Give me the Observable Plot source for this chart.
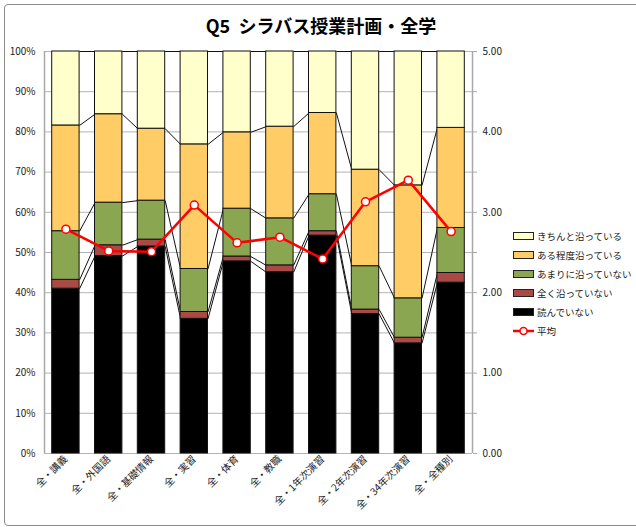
<!DOCTYPE html>
<html>
<head>
<meta charset="utf-8">
<script src="https://cdn.jsdelivr.net/npm/d3@7"></script>
<script src="https://cdn.jsdelivr.net/npm/@observablehq/plot@0.6"></script>
<style>
  html, body { margin: 0; padding: 0; background: #fff; }
  #wrap { position: relative; width: 636px; height: 527px; overflow: hidden; font-family: "Noto Sans CJK JP", "Noto Sans", sans-serif; }
  #frame { position: absolute; left: 4px; top: 4px; width: 680px; height: 522px; box-sizing: border-box; border: 1px solid #8c8c8c; border-radius: 4px; }
  #title { position: absolute; left: 0; width: 642px; top: 14px; text-align: center; font-weight: bold; font-size: 18px; line-height: 22px; white-space: pre; color: #000; }
  #chart { position: absolute; left: 0; top: 0; }
  #legend { position: absolute; left: 513px; top: 226px; width: 130px; font-size: 9.5px; color: #222; white-space: nowrap; }
  .item { display: flex; align-items: center; height: 19.1px; white-space: nowrap; }
  .sw { flex: none; width: 21px; height: 8px; box-sizing: border-box; border: 1px solid #222; margin-right: 3px; }
</style>
</head>
<body>
<div id="wrap">
  <div id="frame"></div>
  <div id="chart"></div>
  <div id="title">Q5  シラバス授業計画・全学</div>
  <div id="legend"></div>
</div>
<script>
// ---- data ----
const categories = ["全・講義","全・外国語","全・基礎情報","全・実習","全・体育","全・教職","全・1年次演習","全・2年次演習","全・34年次演習","全・全種別"];
const seriesNames = ["読んでいない","全く沿っていない","あまりに沿っていない","ある程度沿っている","きちんと沿っている"];
const seriesColors = ["#000000","#a94a47","#8ba650","#ffcc66","#ffffcc"];
const notRead      = [41.0,49.1,51.5,33.5,47.8,45.1,54.2,34.7,27.4,42.5];
const notAtAll     = [2.2,2.7,1.7,1.7,1.2,1.7,1.1,1.1,1.4,2.4];
const notMuch      = [12.1,10.6,9.7,10.7,11.9,11.7,9.2,10.8,9.8,11.2];
const somewhat     = [26.3,22.0,17.9,31.0,19.0,22.8,20.2,24.0,28.1,24.9];
const fully        = [18.4,15.6,19.2,23.1,20.1,18.7,15.3,29.4,33.3,19.0];
const average      = [2.79,2.52,2.51,3.09,2.62,2.69,2.42,3.13,3.40,2.76];
const leftTicks  = [0,10,20,30,40,50,60,70,80,90,100];
const rightLabels = [0,1,2,3,4,5];

// ---- build stacked table ----
const seriesValues = [notRead, notAtAll, notMuch, somewhat, fully];
const half = 0.32;
const rows = [];
const tops = seriesValues.map(() => []);
categories.forEach((c, i) => {
  let acc = 0;
  seriesValues.forEach((vals, k) => {
    const y1 = acc; acc += vals[i];
    rows.push({i, series: seriesNames[k], y1, y2: acc});
    tops[k][i] = acc;
  });
});
const links = [];
tops.forEach((t, k) => {
  for (let i = 0; i < t.length - 1; i++) links.push({i, ya: t[i], yb: t[i + 1]});
});
const avgRows = average.map((v, i) => ({i, v}));

const chart = Plot.plot({
  width: 636, height: 527,
  marginLeft: 44, marginRight: 164, marginTop: 51, marginBottom: 74,
  x: {domain: [-0.5, 9.5]},
  y: {domain: [0, 100], label: null},
  color: {domain: seriesNames, range: seriesColors},
  style: {fontFamily: '"Noto Sans CJK JP", "Noto Sans", sans-serif', fontSize: "10px", background: "transparent", color: "#222"},
  marks: [
    Plot.ruleY(leftTicks, {stroke: "#b4b4b4", strokeWidth: 1}),
    Plot.ruleX([-0.5, 9.5], {stroke: "#a8a8a8", strokeWidth: 1.5}),
    Plot.link(links, {x1: d => d.i + half, x2: d => d.i + 1 - half, y1: "ya", y2: "yb", stroke: "#111", strokeWidth: 1}),
    Plot.rectY(rows, {x1: d => d.i - half, x2: d => d.i + half, y1: "y1", y2: "y2", fill: "series", stroke: "#111", strokeWidth: 1}),
    Plot.line(avgRows, {x: "i", y: d => d.v * 20, stroke: "#ff0000", strokeWidth: 2.5}),
    Plot.dot(avgRows, {x: "i", y: d => d.v * 20, r: 4, fill: "#fff", stroke: "#ff0000", strokeWidth: 1.5}),
    Plot.axisY({anchor: "left", ticks: leftTicks, tickSize: 0, tickPadding: 9, tickFormat: d => d + "%", label: null}),
    Plot.axisY({anchor: "right", ticks: leftTicks, tickSize: 4, tickFormat: () => "", stroke: "#a8a8a8", label: null}),
    Plot.axisY({anchor: "right", ticks: rightLabels.map(v => v * 20), tickSize: 0, tickPadding: 10, tickFormat: d => (d / 20).toFixed(2), label: null}),
    Plot.axisX({ticks: categories.map((c, i) => i), tickFormat: i => categories[i], tickRotate: -45, tickSize: 0, tickPadding: 4, label: null})
  ]
});
document.getElementById("chart").appendChild(chart);

// ---- legend ----
const legend = document.getElementById("legend");
[4, 3, 2, 1, 0].forEach(k => {
  const it = document.createElement("div");
  it.className = "item";
  it.innerHTML = `<div class="sw" style="background:${seriesColors[k]}"></div><span>${seriesNames[k]}</span>`;
  legend.appendChild(it);
});
const it = document.createElement("div");
it.className = "item";
it.innerHTML = `<svg width="21" height="10" style="margin-right:3px;flex:none"><line x1="0" y1="5" x2="21" y2="5" stroke="#ff0000" stroke-width="2.5"/><circle cx="10.5" cy="5" r="3.5" fill="#fff" stroke="#ff0000" stroke-width="1.5"/></svg><span>平均</span>`;
legend.appendChild(it);
</script>
</body>
</html>
